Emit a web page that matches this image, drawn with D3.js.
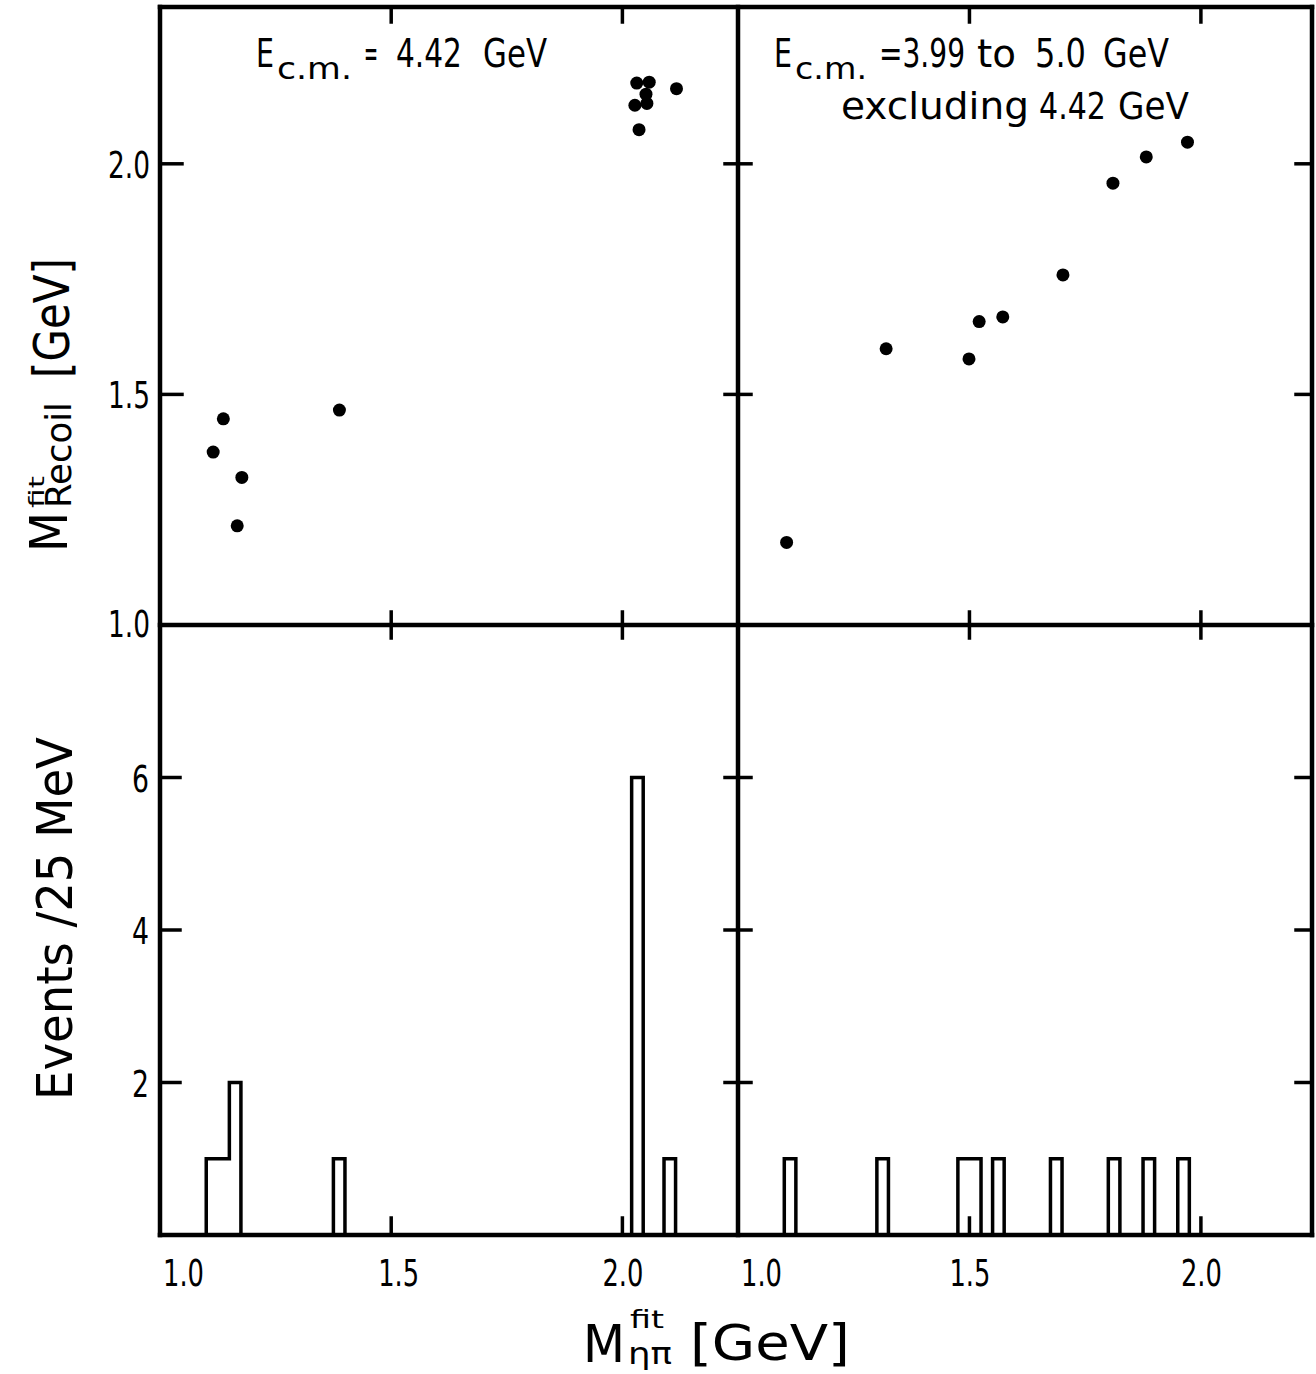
<!DOCTYPE html>
<html><head><meta charset="utf-8">
<script src="https://cdn.jsdelivr.net/npm/d3@7"></script>
<style>html,body{margin:0;padding:0;background:#fff;} svg{display:block}</style>
</head><body><svg id="c" width="1316" height="1374"></svg>
<script>
// ---- tick values / labels ----
const massTicks = [1.0, 1.5, 2.0];
const massTickLabels = ["1.0", "1.5", "2.0"];
const recoilTicks = [1.0, 1.5, 2.0];
const recoilTickLabels = ["1.0", "1.5", "2.0"];
const eventTicks = [2, 4, 6];
const eventTickLabels = ["2", "4", "6"];

// ---- scatter: E_cm = 4.42 GeV ----
const mass442 =   [1.115, 1.137, 1.167, 1.177, 1.388, 2.027, 2.031, 2.036, 2.051, 2.053, 2.058, 2.117];
const recoil442 = [1.375, 1.447, 1.215, 1.320, 1.466, 2.127, 2.175, 2.074, 2.151, 2.131, 2.177, 2.163];

// ---- scatter: E_cm = 3.99 to 5.0 GeV excluding 4.42 ----
const massOther =   [1.105, 1.320, 1.499, 1.521, 1.572, 1.702, 1.810, 1.882, 1.971];
const recoilOther = [1.179, 1.599, 1.577, 1.658, 1.668, 1.759, 1.958, 2.015, 2.047];

// ---- histograms (events / 25 MeV) ----
const binWidth = 0.025;
const bins442Start = [1.100, 1.125, 1.150, 1.375, 2.020, 2.090];
const bins442Count = [1, 1, 2, 1, 6, 1];
const binsOtherStart = [1.100, 1.300, 1.475, 1.500, 1.550, 1.675, 1.800, 1.875, 1.950];
const binsOtherCount = [1, 1, 1, 1, 1, 1, 1, 1, 1];

// ---- layout ----
const L = 160, M = 738, R = 1312, T = 7, H = 625, B = 1235;
const svg = d3.select("#c");
const FONT = "DejaVu Sans";

const xL = d3.scaleLinear().domain([1.0, 2.25]).range([L, M]);
const xR = d3.scaleLinear().domain([1.0, 2.24]).range([M, R]);
const yTop = d3.scaleLinear().domain([1.0, 2.34]).range([H, T]);
const yBot = d3.scaleLinear().domain([0, 8]).range([B, H]);

// text squeezed horizontally to a target width (condensed lettering of the original)
function txt(g, x, y, s, size, len) {
  const grp = g.append("g");
  const t = grp.append("text").attr("x", 0).attr("y", 0)
    .attr("font-family", FONT).attr("font-size", size).attr("fill", "#000").text(s);
  let sx = 1;
  if (len) {
    const nat = t.node().getComputedTextLength();
    if (nat > 0) sx = len / nat;
  }
  grp.attr("transform", `translate(${x},${y}) scale(${sx},1)`);
  return t;
}
function line(x1, y1, x2, y2, w) {
  svg.append("line").attr("x1", x1).attr("y1", y1).attr("x2", x2).attr("y2", y2)
    .attr("stroke", "#000").attr("stroke-width", w).attr("stroke-linecap", "square");
}

// ---- histograms ----
function histPath(xs, starts, counts) {
  const pts = [];
  starts.forEach((s, i) => {
    const e = s + binWidth, c = counts[i];
    const prevContig = i > 0 && Math.abs(starts[i - 1] + binWidth - s) < 1e-9;
    const nextContig = i < starts.length - 1 && Math.abs(e - starts[i + 1]) < 1e-9;
    if (!prevContig) pts.push([s, 0]);
    pts.push([s, c]); pts.push([e, c]);
    if (!nextContig) pts.push([e, 0]);
  });
  const gen = d3.line().x(d => xs(d[0])).y(d => yBot(d[1]));
  svg.append("path").attr("d", gen(pts)).attr("fill", "none")
    .attr("stroke", "#000").attr("stroke-width", 3.5).attr("stroke-linejoin", "miter");
}
histPath(xL, bins442Start, bins442Count);
histPath(xR, binsOtherStart, binsOtherCount);

// ---- scatter points ----
svg.append("g").selectAll("circle").data(d3.range(mass442.length)).join("circle")
  .attr("cx", i => xL(mass442[i])).attr("cy", i => yTop(recoil442[i])).attr("r", 6.5).attr("fill", "#000");
svg.append("g").selectAll("circle").data(d3.range(massOther.length)).join("circle")
  .attr("cx", i => xR(massOther[i])).attr("cy", i => yTop(recoilOther[i])).attr("r", 6.5).attr("fill", "#000");

// ---- frame ----
const FW = 4.5;
line(L, T, R, T, FW); line(L, B, R, B, FW);
line(L, T, L, B, FW); line(R, T, R, B, FW);
line(M, T, M, B, FW); line(L, H, R, H, FW);

// ---- ticks ----
const TW = 3.5;
[xL, xR].forEach(xs => {
  massTicks.filter(v => v > 1.0).forEach(v => {
    const x = xs(v);
    line(x, T, x, T + 15, TW);
    line(x, H - 13, x, H + 13, TW);
    line(x, B, x, B - 17, TW);
  });
});
recoilTicks.filter(v => v > 1.0).forEach(v => {
  const y = yTop(v);
  line(L, y, L + 22, y, TW); line(M - 13, y, M + 13, y, TW); line(R, y, R - 16, y, TW);
});
eventTicks.forEach(v => {
  const y = yBot(v);
  line(L, y, L + 20, y, TW); line(M - 13, y, M + 13, y, TW); line(R, y, R - 16, y, TW);
});

// ---- tick labels ----
recoilTicks.forEach((v, i) => {
  const y = yTop(v) + 14 - (v === 1.0 ? 2 : 0);
  txt(svg, 108, y, recoilTickLabels[i], 37, 42);
});
eventTicks.forEach((v, i) => {
  txt(svg, 132, yBot(v) + 14, eventTickLabels[i], 37, 17);
});
[xL, xR].forEach(xs => {
  massTicks.forEach((v, i) => {
    const x = v === 1.0 ? xs(v) + 3 : xs(v) - 20 + (xs === xL && v === 1.5 ? 7 : 0);
    txt(svg, x, 1286, massTickLabels[i], 37, 41);
  });
});

// ---- annotations ----
txt(svg, 256, 67, "E", 39, 18);
txt(svg, 277, 79, "c.m.", 30, 75);
txt(svg, 364, 67, "=", 39, 14);
txt(svg, 396, 67, "4.42", 39, 66);
txt(svg, 483, 67, "GeV", 39, 64);

txt(svg, 774, 67, "E", 39, 18);
txt(svg, 795, 79, "c.m.", 30, 72);
txt(svg, 879, 67, "=3.99", 39, 86);
txt(svg, 977, 67, "to", 39, 39);
txt(svg, 1035, 67, "5.0", 39, 51);
txt(svg, 1103, 67, "GeV", 39, 66);
txt(svg, 841, 119, "excluding", 38, 188);
txt(svg, 1039, 119, "4.42", 38, 67);
txt(svg, 1118, 119, "GeV", 38, 71);

// ---- y titles (rotated) ----
const gy1 = svg.append("g").attr("transform", "rotate(-90)");
txt(gy1, -552, 67, "M", 52, 40);
txt(gy1, -508, 44, "fit", 22, 32);
txt(gy1, -508, 71, "Recoil", 36, 106);
txt(gy1, -378, 69, "[GeV]", 50, 120);

const gy2 = svg.append("g").attr("transform", "rotate(-90)");
txt(gy2, -1100, 72, "Events /25 MeV", 50, 363);

// ---- x title ----
txt(svg, 583, 1362, "M", 52, 42);
txt(svg, 630, 1328, "fit", 24, 34);
txt(svg, 628, 1364, "ηπ", 30, 44);
txt(svg, 690, 1360, "[GeV]", 50, 160);
</script></body></html>
